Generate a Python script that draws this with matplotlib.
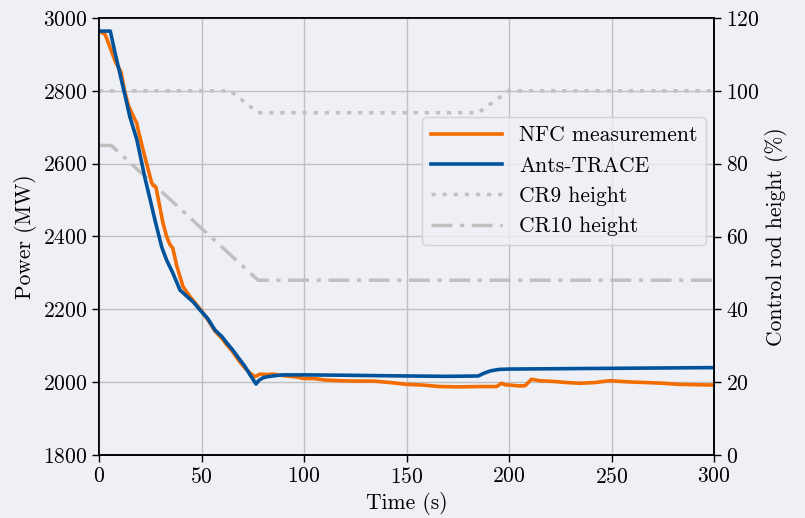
import matplotlib
matplotlib.use("Agg")
import matplotlib.pyplot as plt

plt.rcParams['font.family'] = ['cmr10', 'DejaVu Serif']
plt.rcParams['axes.formatter.use_mathtext'] = True
plt.rcParams['font.size'] = 15.5

# ---- data ----
t_nfc = [0, 3, 6, 8, 10.2, 10.8, 12.5, 14.3, 17.6, 18.4, 19, 21.5, 25.7, 26.5, 27.8, 31.2, 33, 34.6, 36,
         37.9, 41, 44.4, 47.7, 50, 53, 56.6, 60, 62.3, 65, 68.8, 71, 73.7, 76, 78.5, 82, 85, 90,
         96.4, 100, 105, 110, 117.6, 125, 133.8, 142, 150, 158, 166, 175, 186, 194, 196.4, 198,
         200.5, 204, 207.8, 211, 215, 222, 228, 234.6, 242, 249, 255, 261, 267, 275, 283, 291, 300]
p_nfc = [2964, 2955, 2910, 2880, 2857, 2850, 2800, 2760, 2720, 2712, 2695, 2638, 2547, 2540, 2535,
         2437, 2400, 2378, 2368, 2320, 2262, 2235, 2212, 2196, 2172, 2140, 2120, 2103, 2085, 2055,
         2040, 2025, 2015, 2022, 2021, 2022, 2018, 2014, 2010, 2010, 2006, 2004, 2003, 2003, 1999,
         1994, 1992, 1988, 1987, 1988, 1988, 1997, 1993, 1992, 1990, 1990, 2008, 2004, 2002, 1999,
         1997, 1999, 2004, 2002, 2000, 1999, 1997, 1994, 1993, 1992]

t_ants = [0, 5.5, 8, 11, 13, 15, 18.5, 22.4, 25, 27.3, 30.6, 33, 36, 39.5, 43, 46, 49.3, 53, 56.6,
          60, 62.3, 65, 68.8, 71, 73.7, 76.6, 78, 80, 82, 86, 90, 100, 120, 150, 170, 185, 188,
          191, 195, 200, 250, 300]
p_ants = [2964, 2964, 2900, 2828, 2780, 2730, 2665, 2561, 2500, 2445, 2371, 2335, 2300, 2253,
          2235, 2220, 2198, 2175, 2143, 2125, 2108, 2090, 2061, 2045, 2020, 1995, 2005, 2012, 2015,
          2018, 2020, 2020, 2019, 2017, 2016, 2017, 2025, 2031, 2035, 2036, 2038, 2040]

t_cr9 = [0, 64, 77.6, 185, 200, 300]
h_cr9 = [100, 100, 94, 94, 100, 100]
t_cr10 = [0, 6, 77.6, 300]
h_cr10 = [85, 85, 48, 48]

xticks = [0, 50, 100, 150, 200, 250, 300]
yticks_left = [1800, 2000, 2200, 2400, 2600, 2800, 3000]
yticks_right = [0, 20, 40, 60, 80, 100, 120]

bg = '#EFF0F5'
orange = '#F36C00'
blue = '#00539B'
gray = '#C0C0C0'

fig = plt.figure(figsize=(8.05, 5.18), dpi=100, facecolor=bg)
ax1 = fig.add_axes([99/805, 1-455/518, (714-99)/805, (455-18)/518])
ax1.set_facecolor(bg)
ax2 = ax1.twinx()

l3, = ax2.plot(t_cr9, h_cr9, color=gray, lw=2.5, linestyle=(0, (1.2, 2.0)), label='CR9 height')
l4, = ax2.plot(t_cr10, h_cr10, color=gray, lw=2.5, linestyle=(0, (6.0, 2.2, 1.2, 2.2)), label='CR10 height')
ax2.set_ylim(0, 120)
ax2.set_yticks(yticks_right)
ax2.set_ylabel('Control rod height (%)')

ax1.set_zorder(ax2.get_zorder() + 1)
ax1.patch.set_visible(False)
ax2.set_facecolor(bg)

l1, = ax1.plot(t_nfc, p_nfc, color=orange, lw=2.6, label='NFC measurement')
l2, = ax1.plot(t_ants, p_ants, color=blue, lw=2.6, label='Ants-TRACE')
ax1.set_xlim(0, 300)
ax1.set_ylim(1800, 3000)
ax1.set_xticks(xticks)
ax1.set_yticks(yticks_left)
ax1.set_xlabel('Time (s)')
ax1.set_ylabel('Power (MW)')
ax1.grid(True, color=gray, lw=1.0)
ax1.set_axisbelow(True)

for ax in (ax1, ax2):
    for s in ax.spines.values():
        s.set_color('black')
        s.set_linewidth(1.2)
    ax.tick_params(direction='out', length=5, width=1.0, colors='black')

leg = ax1.legend(handles=[l1, l2, l3, l4], loc='center right', bbox_to_anchor=(0.987, 0.627),
                 borderaxespad=0, handlelength=3.3, fontsize=15.5)
leg.get_frame().set_facecolor(bg)

fig.savefig('out.png', dpi=100, facecolor=bg)
